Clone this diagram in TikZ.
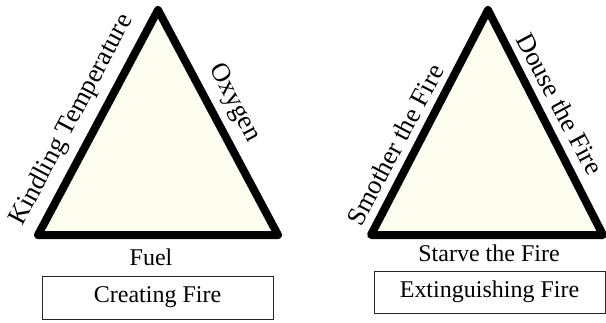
\documentclass[tikz,border=0pt]{standalone}
\usepackage{fontspec}
\setmainfont{Liberation Serif}
\definecolor{cream}{RGB}{252,252,239}
\begin{document}
\begin{tikzpicture}[x=1pt,y=-1pt,
  firetri/.style={draw=black,line width=8pt,line join=round,fill=cream},
  sidelabel/.style={inner sep=0pt,font=\fontsize{26.5}{30}\selectfont},
  baselabel/.style={inner sep=0pt,font=\fontsize{24}{28}\selectfont},
  captionbox/.style={draw=black!85,line width=0.9pt,inner sep=0pt,font=\fontsize{24}{28}\selectfont}]
  \useasboundingbox (0,0) rectangle (606,322);

  % triangle of fire
  \coordinate (la) at (158,10);
  \coordinate (ll) at (38,235);
  \coordinate (lr) at (278,235);
  \draw[firetri] (la) -- (ll) -- (lr) -- cycle;
  \node[sidelabel,rotate=62] (kindling) at (72,120) {Kindling Temperature};
  \node[sidelabel,rotate=-62] (oxygen) at (234,103) {Oxygen};
  \node[baselabel] (fuel) at (151,257) {Fuel};
  \node[captionbox,minimum width=231pt,minimum height=43pt] (create) at (157.5,297.5) {Creating Fire};

  % extinguishing triangle
  \coordinate (ra) at (488,10);
  \coordinate (rl) at (371,235);
  \coordinate (rr) at (603,235);
  \draw[firetri] (ra) -- (rl) -- (rr) -- cycle;
  \node[sidelabel,rotate=62] (smother) at (395,145) {Smother the Fire};
  \node[sidelabel,rotate=-62] (douse) at (560,104) {Douse the Fire};
  \node[baselabel] (starve) at (489,253) {Starve the Fire};
  \node[captionbox,minimum width=231pt,minimum height=42pt] (extinguish) at (489.5,292) {Extinguishing Fire};
\end{tikzpicture}
\end{document}
